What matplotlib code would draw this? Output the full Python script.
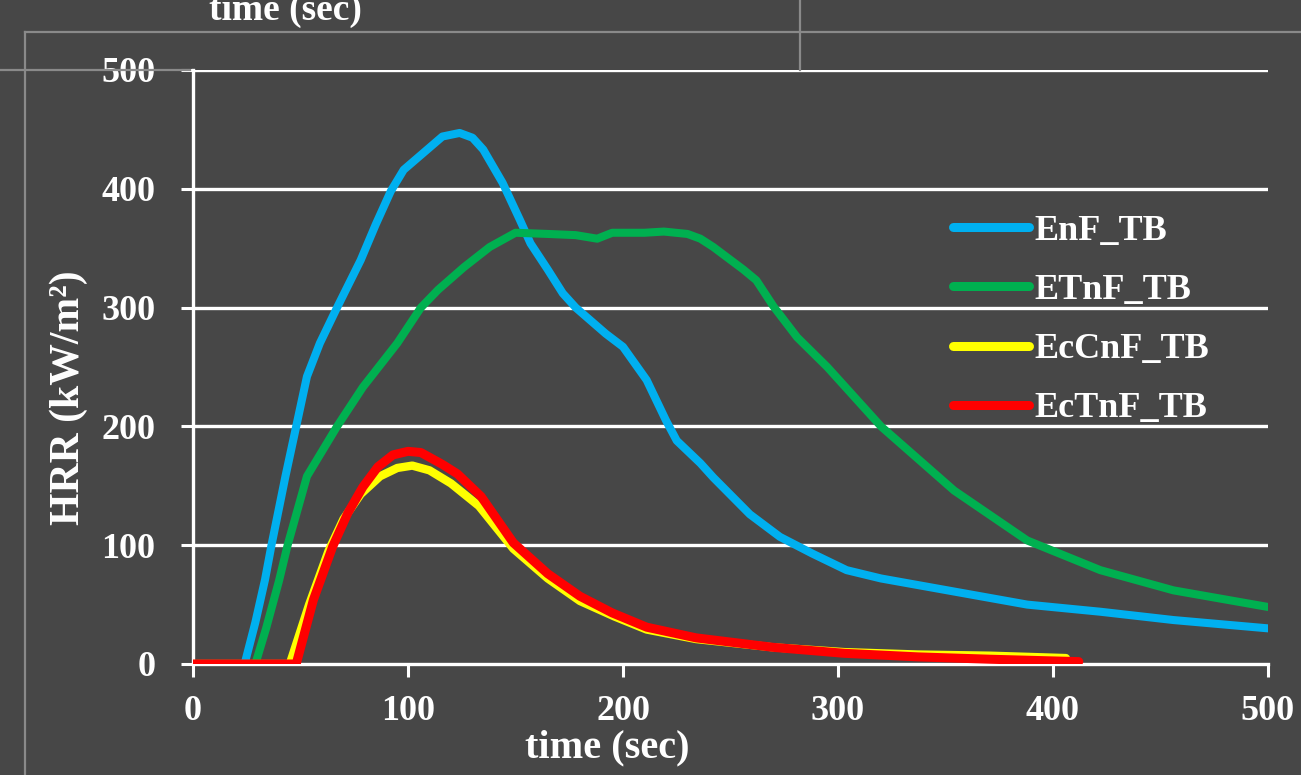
import matplotlib
matplotlib.use("Agg")
import matplotlib.pyplot as plt
from matplotlib.lines import Line2D

# HRR curves (time in s, HRR in kW/m2)
enf_t = [0, 24, 29, 33.5, 36.5, 43, 48, 53, 59, 67, 78, 85, 92, 98, 107, 116, 124,
         130, 135, 144, 152, 157, 165, 172, 178, 192, 200, 211, 220, 225, 236, 242,
         259, 273, 288, 304, 320, 354, 388, 422, 456, 500]
enf_v = [0, 0, 35, 71, 100, 158, 200, 242, 270, 300, 340, 370, 398, 416, 430, 444, 447,
         443, 433, 405, 374, 354, 332, 312, 300, 278, 267, 239, 205, 188, 169, 157,
         126, 107, 93, 79, 72, 61, 50, 44, 37, 30]

etnf_t = [0, 29, 34, 40, 44, 53, 67, 79, 95, 106, 114, 126, 138, 150, 165, 178, 188,
          195, 210, 219, 230, 236, 242, 256, 262, 270, 281, 295, 320, 354, 388, 422,
          456, 500]
etnf_v = [0, 0, 30, 70, 100, 158, 200, 233, 270, 300, 315, 334, 351, 363, 362, 361, 358,
          363, 363, 364, 362, 358, 351, 332, 323, 301, 275, 250, 200, 146, 104, 79,
          62, 48]

eccnf_t = [0, 45, 54, 63, 70, 78, 87, 95, 102, 110, 120, 133, 149, 165, 180, 196, 211,
           234, 270, 303, 337, 371, 406]
eccnf_v = [0, 0, 50, 95, 122, 143, 158, 165, 167, 163, 152, 133, 97, 72, 53, 40, 29,
           21, 14, 10, 8, 7, 5]

ectnf_t = [0, 48, 56, 65, 72, 79, 86, 93, 100, 106, 110, 116, 123, 134, 149, 165, 180,
           195, 211, 234, 270, 303, 337, 371, 412]
ectnf_v = [0, 0, 54, 99, 127, 149, 166, 176, 179, 178, 174, 168, 160, 141, 102, 76, 57,
           43, 31, 22, 14, 9, 6, 4, 2]

labels = ["EnF_TB", "ETnF_TB", "EcCnF_TB", "EcTnF_TB"]
colors = ["#00B0F0", "#00B050", "#FFFF00", "#FF0000"]
widths = [5.8, 5.8, 6.0, 6.5]

xticks = [0, 100, 200, 300, 400, 500]
yticks = [0, 100, 200, 300, 400, 500]

plt.rcParams["font.family"] = ["Liberation Serif", "DejaVu Serif"]
plt.rcParams["font.weight"] = "bold"

bg = "#474747"
fg = "white"
ghost = "#8a8a8a"

fig = plt.figure(figsize=(13.01, 7.75), dpi=100, facecolor=bg)
W, H = 1301, 775

# faint frame of the slide element behind the chart
fig.add_artist(Line2D([25 / W, 1], [1 - 32 / H, 1 - 32 / H], color=ghost, lw=1.6))
fig.add_artist(Line2D([25 / W, 25 / W], [0, 1 - 32 / H], color=ghost, lw=1.6))
fig.add_artist(Line2D([800 / W, 800 / W], [1 - 70 / H, 1], color=ghost, lw=1.6))
fig.add_artist(Line2D([0, 190 / W], [1 - 70 / H, 1 - 70 / H], color=ghost, lw=1.6))
fig.text(285 / W, 1 - 20 / H, "time (sec)", color=fg, fontsize=27,
         ha="center", va="baseline")

ax = fig.add_axes([193 / W, 111 / H, 1075 / W, 594 / H])
ax.set_facecolor("none")

series = [(enf_t, enf_v), (etnf_t, etnf_v), (eccnf_t, eccnf_v), (ectnf_t, ectnf_v)]
for (t, v), lab, c, w in zip(series, labels, colors, widths):
    ax.plot(t, v, color=c, lw=w, label=lab, solid_capstyle="round",
            solid_joinstyle="round", zorder=3)

ax.set_xlim(0, 500)
ax.set_ylim(0, 500)
ax.set_xticks(xticks)
ax.set_yticks(yticks)

for y in yticks[1:]:
    ax.axhline(y, color=fg, lw=2.4, zorder=1)

for s in ["top", "right"]:
    ax.spines[s].set_visible(False)
for s in ["left", "bottom"]:
    ax.spines[s].set_color(fg)
    ax.spines[s].set_linewidth(2.4)

ax.tick_params(axis="both", colors=fg, labelsize=26, width=2.2, length=9)
ax.tick_params(axis="y", pad=18)
ax.tick_params(axis="x", pad=13)
for lbl in ax.get_xticklabels() + ax.get_yticklabels():
    lbl.set_fontweight("bold")

ax.set_xlabel("time (sec)", color=fg, fontsize=29, fontweight="bold")
ax.xaxis.set_label_coords((607 - 193) / 1075, -0.11)
ax.set_ylabel("HRR (kW/m²)", color=fg, fontsize=30, fontweight="bold")
ax.yaxis.set_label_coords((88 - 193) / 1075, 0.448)

leg = ax.legend(loc="upper left", bbox_to_anchor=(0.707, 0.757), frameon=False,
                fontsize=26, handlelength=2.1, handletextpad=0.15,
                labelspacing=0.72, borderpad=0, borderaxespad=0)
for h in leg.get_lines():
    h.set_linewidth(6.5)
    h.set_solid_capstyle("round")
for txt in leg.get_texts():
    txt.set_color(fg)

fig.savefig("out.png", dpi=100, facecolor=bg)
